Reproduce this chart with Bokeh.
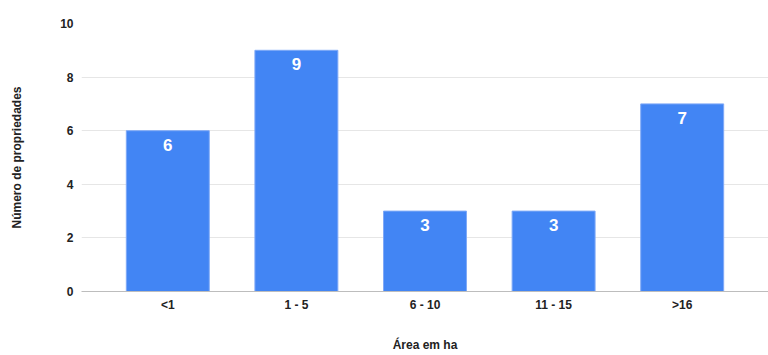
from bokeh.plotting import figure
from bokeh.models import ColumnDataSource, FactorRange, Range1d, FixedTicker
from bokeh.core.properties import value
from bokeh.embed import file_html
from bokeh.resources import INLINE

categories = ["<1", "1 - 5", "6 - 10", "11 - 15", ">16"]
counts = [6, 9, 3, 3, 7]
y_ticks = [0, 2, 4, 6, 8, 10]

FONT = "Liberation Sans"

src = ColumnDataSource(dict(cat=categories, n=counts, lbl=[str(v) for v in counts]))

p = figure(
    width=768, height=355,
    x_range=FactorRange(factors=categories, range_padding=0.0684),
    y_range=Range1d(0, 10),
    output_backend="svg", toolbar_location=None,
    min_border_left=81, min_border_right=0, min_border_top=23, min_border_bottom=64,
)
p.outline_line_color = None
p.background_fill_color = "white"
p.border_fill_color = "white"

p.vbar(x="cat", top="n", width=0.645, source=src,
       fill_color="#4285F4", line_color="#7fa9f7", line_width=1)

p.text(x="cat", y="n", text="lbl", source=src,
       text_font=value(FONT), text_font_style="bold", text_font_size="17px",
       text_color="white", text_align="center", text_baseline="middle",
       y_offset=14)

# y axis
p.yaxis.ticker = FixedTicker(ticks=y_ticks)
p.yaxis.axis_line_color = None
p.yaxis.major_tick_line_color = None
p.yaxis.minor_tick_line_color = None
p.yaxis.major_tick_out = 0
p.yaxis.major_tick_in = 0
p.yaxis.major_label_standoff = 8
p.yaxis.major_label_text_font = FONT
p.yaxis.major_label_text_font_style = "bold"
p.yaxis.major_label_text_font_size = "12px"
p.yaxis.major_label_text_color = "#222222"
p.yaxis.axis_label = "Número de propriedades"
p.yaxis.axis_label_text_font = FONT
p.yaxis.axis_label_text_font_style = "bold"
p.yaxis.axis_label_text_font_size = "12px"
p.yaxis.axis_label_text_color = "#222222"
p.yaxis.axis_label_standoff = 33

# x axis
p.xaxis.axis_line_color = "#bdbdbd"
p.xaxis.axis_line_width = 1
p.xaxis.major_tick_line_color = None
p.xaxis.minor_tick_line_color = None
p.xaxis.major_tick_out = 0
p.xaxis.major_tick_in = 0
p.xaxis.major_label_standoff = 6
p.xaxis.major_label_text_font = FONT
p.xaxis.major_label_text_font_style = "bold"
p.xaxis.major_label_text_font_size = "12px"
p.xaxis.major_label_text_color = "#222222"
p.xaxis.axis_label = "Área em ha"
p.xaxis.axis_label_text_font = FONT
p.xaxis.axis_label_text_font_style = "bold"
p.xaxis.axis_label_text_font_size = "12px"
p.xaxis.axis_label_text_color = "#222222"
p.xaxis.axis_label_standoff = 23

p.xgrid.grid_line_color = None
p.ygrid.grid_line_color = "#e6e6e6"
p.ygrid.grid_line_width = 1

open("out.html", "w").write(file_html(p, INLINE))
